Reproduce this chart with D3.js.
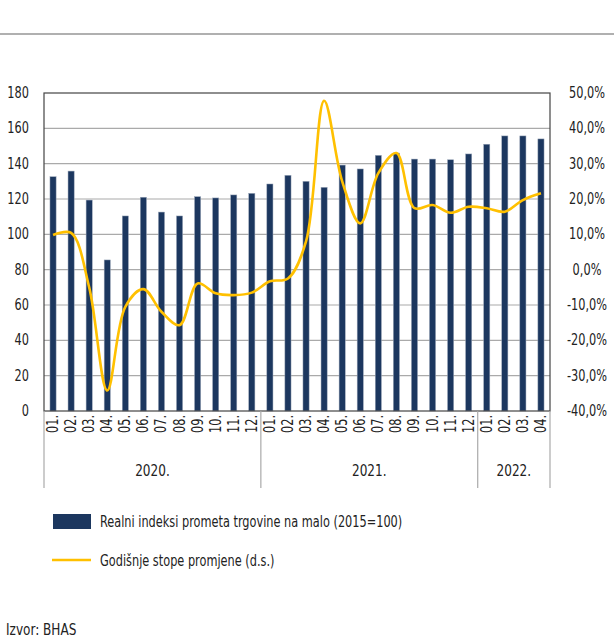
<!doctype html>
<html>
<head>
  <meta charset="utf-8">
  <script src="https://cdn.jsdelivr.net/npm/d3@7"></script>
  <style>
    body { margin: 0; background: #fff; }
    text { font-family: "DejaVu Sans Condensed", "Liberation Sans Narrow", sans-serif; fill: #222; }
  </style>
</head>
<body>
  <div id="viz"></div>
  <script>
    // data
    var months = ["01.","02.","03.","04.","05.","06.","07.","08.","09.","10.","11.","12.",
                  "01.","02.","03.","04.","05.","06.","07.","08.","09.","10.","11.","12.",
                  "01.","02.","03.","04."];
    var yearLabels = ["2020.", "2021.", "2022."];
    var yearCounts = [12, 12, 4];
    var indexValues = [132.6, 135.8, 119.4, 85.5, 110.4, 121, 112.6, 110.4, 121.3, 120.6, 122.3, 123.2,
                       128.5, 133.4, 130, 126.6, 139.2, 137, 144.7, 146, 142.6, 142.6, 142.2, 145.5,
                       151, 155.7, 155.7, 154];
    var growthValues = [9.8, 10.4, -5, -34.2, -10.5, -5.5, -11.9, -15.7, -3.9, -6.7, -7.2, -6.5,
                        -3.3, -2.5, 8, 47.8, 25, 13.1, 27.3, 33, 17.4, 18.3, 16.1, 17.8,
                        17.4, 16.4, 19.7, 21.6];
    var leftTicks = [0, 20, 40, 60, 80, 100, 120, 140, 160, 180];
    var rightTicks = [-40, -30, -20, -10, 0, 10, 20, 30, 40, 50];
    var legendLabels = ["Realni indeksi prometa trgovine na malo (2015=100)", "Godišnje stope promjene (d.s.)"];

    var barColor = "#1c375f", lineColor = "#ffc000";
    var sx = 0.84; // squeeze text horizontally, the original font is a condensed one
    var margin = {top: 93, left: 44}, width = 506, height = 318;

    var svg = d3.select("#viz").append("svg")
        .attr("width", 614).attr("height", 640);

    function at(x, y) { return "translate(" + x + "," + y + ") scale(" + sx + ",1)"; }

    // top rule
    svg.append("line").attr("x1", 0).attr("x2", 614).attr("y1", 34).attr("y2", 34)
       .attr("stroke", "#b0b0b0").attr("stroke-width", 2);

    var g = svg.append("g").attr("transform", "translate(" + margin.left + "," + margin.top + ")");

    var x = d3.scaleBand().domain(d3.range(months.length)).range([0, width]).paddingInner(0.66).paddingOuter(0.33);
    var yL = d3.scaleLinear().domain([0, 180]).range([height, 0]);
    var yR = d3.scaleLinear().domain([-40, 50]).range([height, 0]);

    // grid
    g.selectAll(".grid").data(leftTicks.slice(1, -1)).enter().append("line")
      .attr("x1", 0).attr("x2", width)
      .attr("y1", function(d) { return yL(d); }).attr("y2", function(d) { return yL(d); })
      .attr("stroke", "#aaa").attr("stroke-width", 1.2);

    // bars
    g.selectAll(".bar").data(indexValues).enter().append("rect")
      .attr("x", function(d, i) { return x(i); })
      .attr("width", x.bandwidth())
      .attr("y", function(d) { return yL(d); })
      .attr("height", function(d) { return height - yL(d); })
      .attr("fill", barColor)
      .attr("stroke", "#9aa6b8").attr("stroke-width", 0.5);

    // line
    var line = d3.line()
      .x(function(d, i) { return x(i) + x.bandwidth() / 2; })
      .y(function(d) { return yR(d); })
      .curve(d3.curveCatmullRom.alpha(0.5));
    g.append("path").datum(growthValues)
      .attr("d", line).attr("fill", "none")
      .attr("stroke", lineColor).attr("stroke-width", 2.6);

    // frame
    g.append("rect").attr("width", width).attr("height", height)
      .attr("fill", "none").attr("stroke", "#444").attr("stroke-width", 1.2);

    // left axis labels
    g.selectAll(".ly").data(leftTicks).enter().append("text")
      .attr("transform", function(d) { return at(-15, yL(d) + 5); })
      .attr("text-anchor", "end").style("font-size", "15px")
      .text(function(d) { return d; });

    // right axis labels
    g.selectAll(".ry").data(rightTicks).enter().append("text")
      .attr("transform", function(d) { return at(width + 37, yR(d) + 5); })
      .attr("text-anchor", "middle").style("font-size", "15px")
      .text(function(d) { return d3.format(".1f")(d).replace(".", ",").replace("−", "-") + "%"; });

    // month labels
    g.selectAll(".mx").data(months).enter().append("text")
      .attr("transform", function(d, i) {
        return "translate(" + (x(i) + x.bandwidth() / 2 + 5) + "," + (height + 4) + ") rotate(-90) scale(" + sx + ",1)";
      })
      .attr("text-anchor", "end").style("font-size", "15px")
      .text(function(d) { return d; });

    // year separators and labels
    var bounds = [0];
    yearCounts.forEach(function(n) { bounds.push(bounds[bounds.length - 1] + n); });
    var step = x.step();
    function edge(k) { return k === 0 ? 0 : (k >= months.length ? width : x(k) - x.paddingInner() * step / 2); }
    g.selectAll(".sep").data(bounds).enter().append("line")
      .attr("x1", function(d) { return edge(d); }).attr("x2", function(d) { return edge(d); })
      .attr("y1", height).attr("y2", height + 77)
      .attr("stroke", "#aaa").attr("stroke-width", 1.2);
    g.selectAll(".yr").data(yearLabels).enter().append("text")
      .attr("transform", function(d, i) { return at((edge(bounds[i]) + edge(bounds[i + 1])) / 2, height + 65); })
      .attr("text-anchor", "middle").style("font-size", "16px")
      .text(function(d) { return d; });

    // legend
    svg.append("rect").attr("x", 53).attr("y", 514).attr("width", 38).attr("height", 15).attr("fill", barColor);
    svg.append("text").attr("transform", at(100, 527)).style("font-size", "15px").text(legendLabels[0]);
    svg.append("line").attr("x1", 52).attr("x2", 91).attr("y1", 560).attr("y2", 560)
       .attr("stroke", lineColor).attr("stroke-width", 2.6);
    svg.append("text").attr("transform", at(100, 566)).style("font-size", "15px").text(legendLabels[1]);

    // source
    svg.append("text").attr("transform", at(6, 635)).style("font-size", "16px").text("Izvor: BHAS");
  </script>
</body>
</html>
